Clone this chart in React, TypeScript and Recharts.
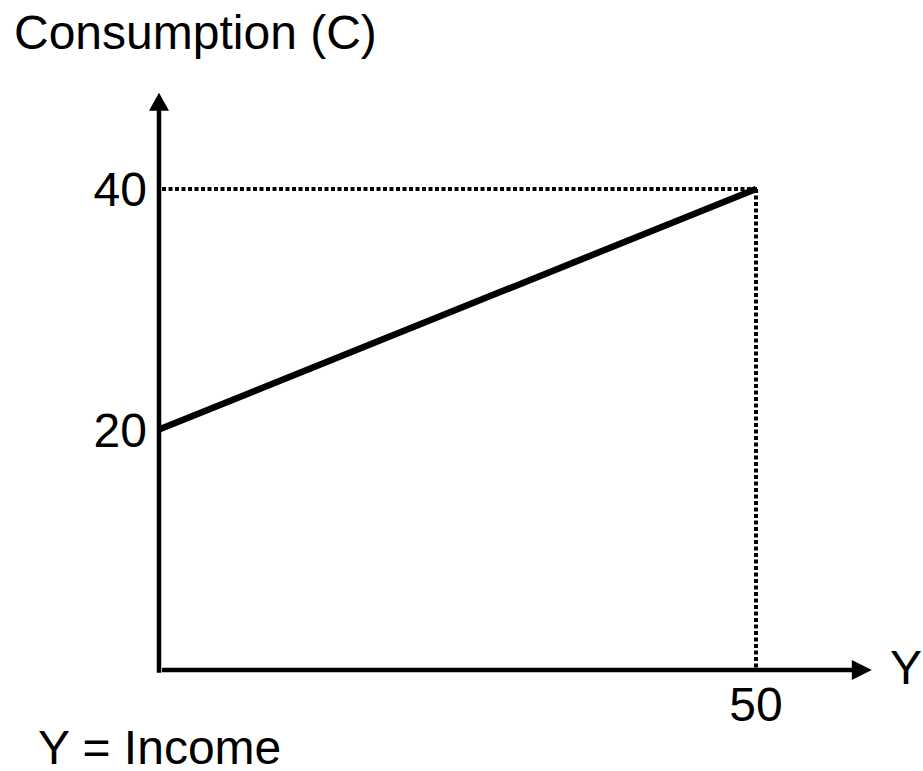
import React from 'react';
import { LineChart, Line, XAxis, YAxis, ReferenceLine } from 'recharts';

// ---- data ----
const incomeValues = [0, 50];
const consumptionValues = [20, 40];
const xTicks = [50];
const yTicks = [20, 40];
const xDomain: [number, number] = [0, 60];
const yDomain: [number, number] = [0, 48];
const xArrowTip = 59.7;
const yArrowTip = 48;
const titleText = 'Consumption (C)';
const xAxisName = 'Y';
const noteText = 'Y = Income';

const data = incomeValues.map((x, i) => ({ x, c: consumptionValues[i] }));

const FONT = '"Liberation Sans", Arial, Helvetica, sans-serif';
const W = 923;
const H = 771;

const DottedShape = (props: any) => {
  const { x1, y1, x2, y2 } = props;
  const horizontal = Math.abs(y1 - y2) < 0.5;
  if (horizontal) {
    const y = Math.round(y1);
    return (
      <path
        d={`M${Math.min(x1, x2) + 3},${y} L${Math.max(x1, x2) + 1},${y}`}
        stroke="#000"
        strokeWidth={4}
        strokeDasharray="4 2.5"
        fill="none"
      />
    );
  }
  const x = Math.round(x1);
  return (
    <path
      d={`M${x},${Math.min(y1, y2)} L${x},${Math.max(y1, y2)}`}
      stroke="#000"
      strokeWidth={4}
      strokeDasharray="4 2.5"
      fill="none"
    />
  );
};

const YAxisArrow = (props: any) => {
  const { x1, y1, y2 } = props;
  const top = Math.min(y1, y2);
  const bottom = Math.max(y1, y2);
  const x = x1;
  return (
    <g>
      <line x1={x} y1={bottom + 2.7} x2={x} y2={top + 16} stroke="#000" strokeWidth={4.5} />
      <polygon points={`${x},${top} ${x - 10},${top + 18} ${x + 10},${top + 18}`} fill="#000" />
    </g>
  );
};

const XAxisArrow = (props: any) => {
  const { x1, y1, x2 } = props;
  const left = Math.min(x1, x2);
  const right = Math.max(x1, x2);
  const y = y1;
  return (
    <g>
      <line x1={left + 3} y1={y} x2={right - 18} y2={y} stroke="#000" strokeWidth={4.6} />
      <polygon points={`${right},${y} ${right - 20},${y - 10} ${right - 20},${y + 10}`} fill="#000" />
    </g>
  );
};

export default function App() {
  return (
    <div style={{ position: 'absolute', left: 0, top: 0, width: W, height: H, background: '#fff' }}>
      <LineChart
        width={W}
        height={H}
        data={data}
        margin={{ top: 92.8, right: 47.6, bottom: 0, left: 0 }}
      >
        <XAxis
          type="number"
          dataKey="x"
          domain={xDomain}
          ticks={xTicks}
          height={101}
          axisLine={false}
          tickLine={false}
          tickSize={0}
          tickMargin={17}
          allowDataOverflow
          tick={{ fill: '#000', fontSize: 48, fontFamily: FONT }}
        />
        <YAxis
          type="number"
          domain={yDomain}
          ticks={yTicks}
          width={159}
          axisLine={false}
          tickLine={false}
          tickSize={0}
          tickMargin={12}
          allowDataOverflow
          tick={{ fill: '#000', fontSize: 48, fontFamily: FONT }}
        />
        <ReferenceLine
          segment={[{ x: incomeValues[0], y: consumptionValues[1] }, { x: incomeValues[1], y: consumptionValues[1] }]}
          shape={DottedShape}
          strokeWidth={4}
        />
        <ReferenceLine
          segment={[{ x: incomeValues[1], y: 0 }, { x: incomeValues[1], y: consumptionValues[1] }]}
          shape={DottedShape}
          strokeWidth={4}
        />
        <ReferenceLine
          segment={[{ x: 0, y: 0 }, { x: 0, y: yArrowTip }]}
          shape={YAxisArrow}
        />
        <ReferenceLine
          segment={[{ x: 0, y: 0 }, { x: xArrowTip, y: 0 }]}
          shape={XAxisArrow}
        />
        <Line
          type="linear"
          dataKey="c"
          stroke="#000"
          strokeWidth={6.5}
          dot={false}
          activeDot={false}
          isAnimationActive={false}
        />
      </LineChart>
      <svg
        width={W}
        height={H}
        style={{ position: 'absolute', left: 0, top: 0, pointerEvents: 'none' }}
      >
        <text x={14} y={49} fontSize={48} fontFamily={FONT} fill="#000">{titleText}</text>
        <text x={890} y={684} fontSize={48} fontFamily={FONT} fill="#000">{xAxisName}</text>
        <text x={38} y={764} fontSize={48} fontFamily={FONT} fill="#000">{noteText}</text>
      </svg>
    </div>
  );
}
